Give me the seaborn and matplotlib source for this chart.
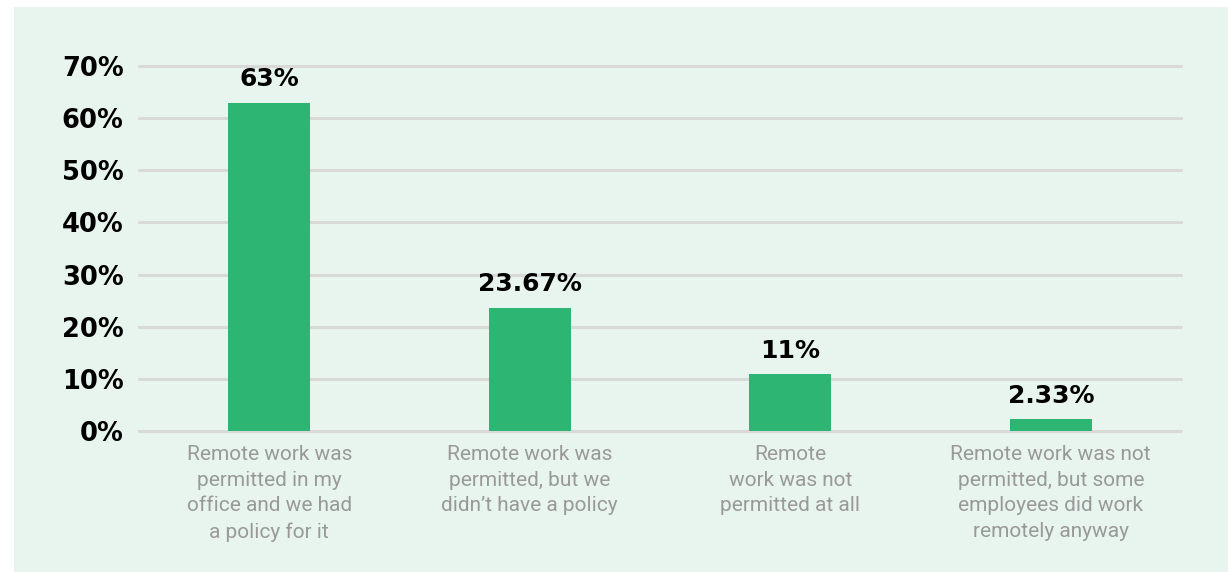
import matplotlib
matplotlib.use("Agg")
import matplotlib.pyplot as plt
from matplotlib.patches import Rectangle
import seaborn as sns
import pandas as pd

categories = [
    "Remote work was\npermitted in my\noffice and we had\na policy for it",
    "Remote work was\npermitted, but we\ndidn\u2019t have a policy",
    "Remote\nwork was not\npermitted at all",
    "Remote work was not\npermitted, but some\nemployees did work\nremotely anyway",
]
shares = [63, 23.67, 11, 2.33]
share_labels = ["63%", "23.67%", "11%", "2.33%"]
y_ticks = [0, 10, 20, 30, 40, 50, 60, 70]
y_tick_labels = ["0%", "10%", "20%", "30%", "40%", "50%", "60%", "70%"]

PANEL = "#e8f5ef"
BAR = "#2db573"
GRID = "#d9d9d9"
LABEL_GREY = "#999999"

sns.set_theme(style="white")
plt.rcParams["font.family"] = ["Roboto", "DejaVu Sans"]

W, H = 1228, 572
fig = plt.figure(figsize=(W / 100, H / 100), dpi=100, facecolor="white")

# light green card behind the chart
fig.patches.append(Rectangle((14 / W, 0), 1 - 14 / W, 1 - 7 / H,
                             transform=fig.transFigure, facecolor=PANEL,
                             edgecolor="none", zorder=-10))

ax = fig.add_axes([139 / W, 1 - 431 / H, (1181 - 139) / W, (431 - 66) / H])
ax.set_facecolor("none")

df = pd.DataFrame({"category": categories, "share": shares})
sns.barplot(data=df, x="category", y="share", order=categories,
            color=BAR, saturation=1, width=82 / 260.5, linewidth=0,
            ax=ax, zorder=3)

ax.set_xlim(-0.5, 3.5)
ax.set_ylim(0, 70)
ax.set_yticks(y_ticks)
ax.set_yticklabels(y_tick_labels, fontsize=18.5, fontweight="bold",
                   color="black", family=["DejaVu Sans"])
ax.tick_params(axis="y", length=0, pad=11)
ax.tick_params(axis="x", length=0, pad=10)
ax.set_xticks(range(len(categories)))
ax.set_xticklabels(categories, fontsize=15, color=LABEL_GREY,
                   linespacing=1.45)
ax.set_xlabel("")
ax.set_ylabel("")

for v in y_ticks:
    ax.axhline(v, color=GRID, lw=2.2, zorder=1, clip_on=False)

for spine in ax.spines.values():
    spine.set_visible(False)

for container in ax.containers:
    ax.bar_label(container, labels=share_labels, padding=8, fontsize=18,
                 fontweight="bold", color="black", family=["DejaVu Sans"])

fig.savefig("out.png", dpi=100, facecolor="white")
